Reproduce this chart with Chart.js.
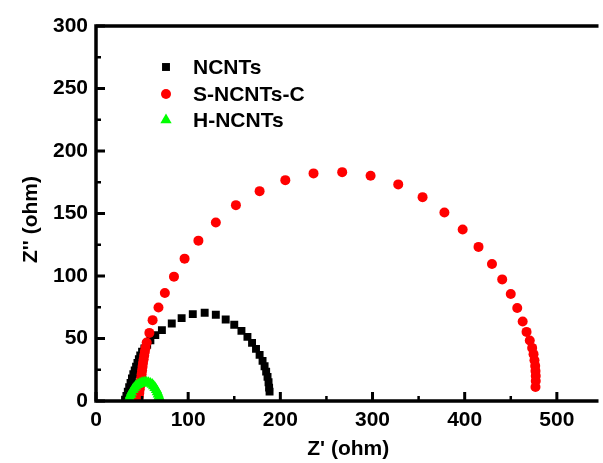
<!DOCTYPE html>
<html>
<head>
<meta charset="utf-8">
<script src="https://cdn.jsdelivr.net/npm/chart.js@4/dist/chart.umd.min.js"></script>
<style>
  html, body { margin: 0; padding: 0; background: #fff; }
  #wrap { width: 603px; height: 463px; position: relative; }
</style>
</head>
<body>
<div id="wrap"><canvas id="nyquist"></canvas></div>
<script>
// ── data (Z' / Z'' in ohm)
const ncntsX = [31.5, 33, 34.5, 36, 37.5, 39, 40.5, 42, 43.5, 45, 46.5, 48, 50, 52.5, 55.5, 59, 64.3, 71.5, 82.2, 92.9, 105.0, 117.9, 130.0, 140.7, 150.0, 157.8, 164.3, 169.3, 173.6, 177.5, 180.7, 182.9, 184.6, 186.1, 187.2, 187.8, 188.3];
const ncntsY = [1, 4, 7.5, 11, 14.5, 18, 21.5, 24.5, 27.5, 30.5, 33.5, 36.5, 39.5, 42, 45, 48.5, 52.7, 56.7, 62.0, 66.3, 69.5, 70.6, 69.0, 65.2, 61.0, 56.1, 51.3, 46.5, 41.7, 36.9, 32.1, 27.8, 23.5, 19.3, 15.0, 10.7, 7.5];

const sncX = [46, 46.5, 47, 47.5, 48, 48.5, 49, 49.5, 50, 50.5, 51, 51.7, 52.3, 53, 53.7, 55, 57.9, 61.4, 67.8, 74.7, 84.6, 96.1, 111.1, 130.0, 151.8, 177.5, 205.4, 236.0, 267.1, 297.9, 327.9, 354.3, 378.0, 397.8, 415.0, 429.6, 440.7, 450.0, 457.0, 462.9, 467.1, 470.6, 473.2, 474.7, 475.7, 476.5, 476.8, 477.1, 477.1, 476.8];
const sncY = [0.5, 3.5, 6.5, 9.5, 12.5, 15.5, 18.5, 21.5, 24.5, 27.5, 30.5, 33.5, 36.5, 39.5, 42.5, 46.8, 54.5, 64.7, 74.8, 86.4, 99.5, 113.9, 128.3, 142.8, 156.7, 167.9, 176.7, 182.1, 183.1, 180.2, 173.3, 163.1, 150.8, 137.2, 123.3, 109.6, 97.3, 85.6, 74.4, 63.6, 55.3, 48.4, 42.5, 37.5, 32.6, 28.1, 24.1, 20.1, 16.0, 11.2];

const hncX = [36, 36.5, 37.5, 38.5, 40, 41.5, 43, 45, 47, 49, 51, 53, 55, 57, 59, 61, 62.5, 64, 65.5, 66.5, 67.5, 68.3, 69, 69.5];
const hncY = [1, 3, 5, 7, 9, 10.5, 11.8, 13, 13.8, 14.4, 14.8, 15, 15, 14.7, 14.1, 13.2, 12, 10.6, 9, 7.2, 5.4, 3.6, 1.8, 0.5];

const seriesNames = ["NCNTs", "S-NCNTs-C", "H-NCNTs"];
const xTicks = [0, 100, 200, 300, 400, 500];
const yTicks = [0, 50, 100, 150, 200, 250, 300];
const xMinor = [50, 150, 250, 350, 450, 550];
const yMinor = [25, 75, 125, 175, 225, 275];

const FONT = "'Liberation Sans', Arial, sans-serif";
const toPts = (xs, ys) => xs.map((x, i) => ({ x: x, y: ys[i] }));

// frame, inward ticks, legend and axis titles
const framePlugin = {
  id: "frame",
  afterDraw(chart) {
    const { ctx, chartArea: a, scales } = chart;
    const xs = scales.x, ys = scales.y;
    ctx.save();
    ctx.strokeStyle = "#000";
    ctx.lineCap = "butt";

    // ticks (inside)
    ctx.lineWidth = 3;
    ctx.beginPath();
    xTicks.forEach((v) => {
      const px = xs.getPixelForValue(v);
      ctx.moveTo(px, a.bottom); ctx.lineTo(px, a.bottom - 9);
    });
    yTicks.forEach((v) => {
      const py = ys.getPixelForValue(v);
      ctx.moveTo(a.left, py); ctx.lineTo(a.left + 9, py);
    });
    ctx.stroke();
    ctx.lineWidth = 2.5;
    ctx.beginPath();
    xMinor.forEach((v) => {
      const px = xs.getPixelForValue(v);
      if (px > a.right) return;
      ctx.moveTo(px, a.bottom); ctx.lineTo(px, a.bottom - 5);
    });
    yMinor.forEach((v) => {
      const py = ys.getPixelForValue(v);
      ctx.moveTo(a.left, py); ctx.lineTo(a.left + 5, py);
    });
    ctx.stroke();

    // frame
    ctx.lineWidth = 3.5;
    ctx.beginPath();
    ctx.moveTo(a.right + 2, a.top);
    ctx.lineTo(a.left, a.top);
    ctx.lineTo(a.left, a.bottom);
    ctx.lineTo(a.right + 2, a.bottom);
    ctx.stroke();

    // legend
    const rows = [67, 94, 120];
    ctx.font = "bold 21px " + FONT;
    ctx.textBaseline = "middle";
    ctx.textAlign = "left";
    const byName = {};
    chart.data.datasets.forEach((d) => (byName[d.label] = d));
    seriesNames.forEach((name, i) => {
      const d = byName[name];
      ctx.fillStyle = d.backgroundColor;
      Chart.helpers.drawPoint(ctx, {
        pointStyle: d.pointStyle,
        radius: d.pointRadius,
        borderWidth: 0,
        rotation: 0,
      }, 166, rows[i]);
      ctx.fillStyle = "#000";
      ctx.fillText(name, 193, rows[i] + 1);
    });

    // axis titles
    ctx.font = "bold 21px " + FONT;
    ctx.textAlign = "center";
    ctx.fillText("Z' (ohm)", (a.left + a.right) / 2 + 2, 449);
    ctx.translate(31, (a.top + a.bottom) / 2 + 6);
    ctx.rotate(-Math.PI / 2);
    ctx.fillText("Z'' (ohm)", 0, 0);
    ctx.restore();
  },
};

new Chart(document.getElementById("nyquist").getContext("2d"), {
  type: "scatter",
  data: {
    datasets: [
      {
        label: "H-NCNTs",
        data: toPts(hncX, hncY),
        pointStyle: "triangle",
        pointRadius: 6.5,
        backgroundColor: "#00ff00",
        borderWidth: 0,
      },
      {
        label: "S-NCNTs-C",
        data: toPts(sncX, sncY),
        pointStyle: "circle",
        pointRadius: 5,
        backgroundColor: "#ff0000",
        borderWidth: 0,
      },
      {
        label: "NCNTs",
        data: toPts(ncntsX, ncntsY),
        pointStyle: "rect",
        pointRadius: 5.6,
        backgroundColor: "#000000",
        borderWidth: 0,
      },
    ],
  },
  options: {
    responsive: true,
    maintainAspectRatio: false,
    animation: false,
    layout: { padding: { top: 26, right: 0, left: 0, bottom: 0 } },
    plugins: {
      legend: { display: false },
      tooltip: { enabled: false },
    },
    scales: {
      x: {
        type: "linear",
        min: 0,
        max: 543,
        afterBuildTicks: (s) => { s.ticks = xTicks.map((v) => ({ value: v })); },
        afterFit: (s) => { s.height = 62; },
        grid: { display: false, drawTicks: false },
        border: { display: false },
        ticks: {
          padding: 7,
          color: "#000",
          maxRotation: 0,
          font: { family: FONT, size: 21, weight: "bold" },
        },
      },
      y: {
        type: "linear",
        min: 0,
        max: 300,
        afterBuildTicks: (s) => { s.ticks = yTicks.map((v) => ({ value: v })); },
        afterFit: (s) => { s.width = 96; },
        grid: { display: false, drawTicks: false },
        border: { display: false },
        ticks: {
          padding: 8,
          color: "#000",
          font: { family: FONT, size: 21, weight: "bold" },
        },
      },
    },
  },
  plugins: [framePlugin],
});
</script>
</body>
</html>
